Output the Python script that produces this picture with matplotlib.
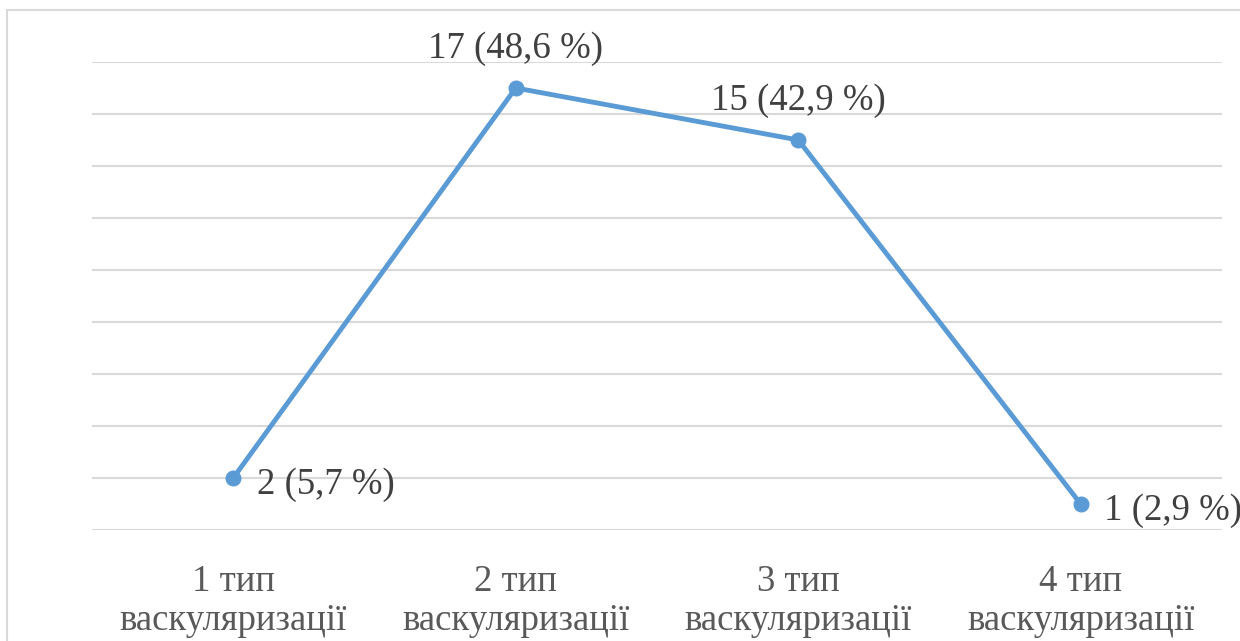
import matplotlib
import matplotlib.pyplot as plt
from matplotlib.patches import Rectangle

matplotlib.use("Agg")

categories = ["1 тип\nваскуляризації", "2 тип\nваскуляризації",
              "3 тип\nваскуляризації", "4 тип\nваскуляризації"]
counts = [2, 17, 15, 1]
percents = ["5,7", "48,6", "42,9", "2,9"]

plt.rcParams["font.family"] = ["Liberation Serif", "DejaVu Serif"]

fig = plt.figure(figsize=(12.4, 6.41), dpi=100)
ax = fig.add_axes([92 / 1240, 1 - 530 / 641, 1130 / 1240, 468 / 641])

x = list(range(len(categories)))
ax.plot(x, counts, color="#5b9bd5", lw=3.5, marker="o", ms=10.5,
        solid_capstyle="round", solid_joinstyle="round", zorder=3)

ax.set_xlim(-0.5, len(categories) - 0.5)
ax.set_ylim(0, 18)
ax.set_yticks(range(0, 19, 2))
ax.yaxis.grid(True, color="#d9d9d9", lw=1.5)
ax.set_axisbelow(True)
ax.tick_params(left=False, labelleft=False, bottom=False)
for s in ax.spines.values():
    s.set_visible(False)

ax.set_xticks(x)
ax.set_xticklabels(categories, fontsize=26.5, color="#595959", linespacing=1.17)
ax.tick_params(axis="x", pad=21)

# value labels: above for the peaks, right of the point for the low ones
for i, (c, p) in enumerate(zip(counts, percents)):
    label = f"{c} ({p} %)"
    if c > 10:
        ax.annotate(label, (i, c), xytext=(0, 28), textcoords="offset points",
                    ha="center", va="center", fontsize=26.5, color="#404040")
    else:
        ax.annotate(label, (i, c), xytext=(17, -5), textcoords="offset points",
                    ha="left", va="center", fontsize=26.5, color="#404040")

fig.patches.append(Rectangle((7 / 1240, -0.1), 1.2, 1 - 10 / 641 + 0.1,
                             transform=fig.transFigure, fill=False,
                             edgecolor="#d9d9d9", lw=1.5))

fig.savefig("out.png", dpi=100)
